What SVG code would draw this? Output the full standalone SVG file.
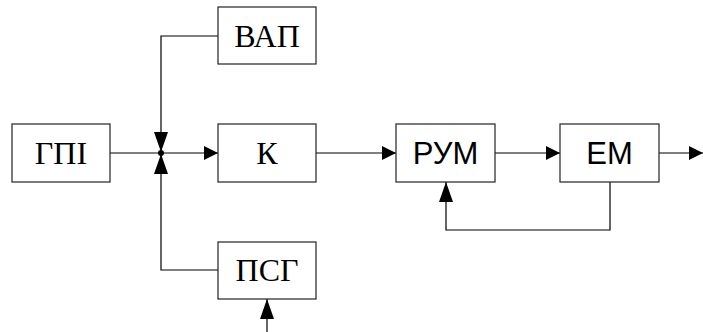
<svg xmlns="http://www.w3.org/2000/svg" width="703" height="332" viewBox="0 0 703 332">
<defs>
<marker id="ah" viewBox="0 0 14 14" refX="14" refY="7" markerWidth="14" markerHeight="14" markerUnits="userSpaceOnUse" orient="auto">
<path d="M0,0 L14,7 L0,14 Z" fill="#000"/>
</marker>
<marker id="av" viewBox="0 0 20 14" refX="20" refY="7" markerWidth="20" markerHeight="14" markerUnits="userSpaceOnUse" orient="auto">
<path d="M0,0 L20,7 L0,14 Z" fill="#000"/>
</marker>
</defs>
<style>
.box{fill:#fff;stroke:#222;stroke-width:1.2}
.ln{fill:none;stroke:#000;stroke-width:1.2}
.serif{font-family:"Liberation Serif","Times New Roman",serif;font-size:32px;text-anchor:middle;fill:#000}
.sans{font-family:"Liberation Sans",Arial,sans-serif;font-size:31px;text-anchor:middle;fill:#000}
</style>
<rect width="703" height="332" fill="#fff"/>
<g id="connectors">
<path class="ln" d="M110,153 H218" marker-end="url(#ah)"/>
<path class="ln" d="M218,36 H161 V152" marker-end="url(#av)"/>
<path class="ln" d="M218,270 H161 V154" marker-end="url(#av)"/>
<circle cx="161" cy="153" r="3" fill="#000"/>
<path class="ln" d="M267,332 V299" marker-end="url(#av)"/>
<path class="ln" d="M316,153 H396" marker-end="url(#ah)"/>
<path class="ln" d="M495,153 H560" marker-end="url(#ah)"/>
<path class="ln" d="M659,153 H703" marker-end="url(#ah)"/>
<path class="ln" d="M610,182 V230 H446 V182" marker-end="url(#av)"/>
</g>
<g id="gpi"><rect class="box" x="12" y="124" width="98" height="58"/><text class="serif" x="61" y="164">ГПІ</text></g>
<g id="vap"><rect class="box" x="218" y="7" width="98" height="57"/><text class="serif" x="267" y="47">ВАП</text></g>
<g id="k"><rect class="box" x="218" y="124" width="98" height="58"/><text class="serif" x="267" y="164">К</text></g>
<g id="psg"><rect class="box" x="218" y="242" width="98" height="57"/><text class="serif" x="267" y="281">ПСГ</text></g>
<g id="rum"><rect class="box" x="396" y="124" width="99" height="58"/><text class="sans" x="445.5" y="164">РУМ</text></g>
<g id="em"><rect class="box" x="560" y="124" width="99" height="58"/><text class="sans" x="609.5" y="164">ЕМ</text></g>
</svg>
